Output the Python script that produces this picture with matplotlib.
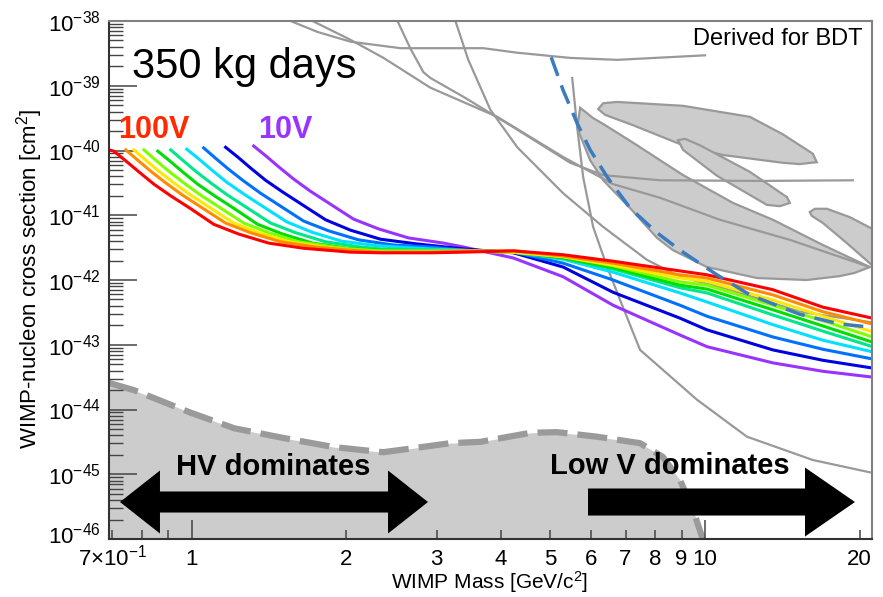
import numpy as np
import matplotlib
matplotlib.use("Agg")
import matplotlib.pyplot as plt
from matplotlib.patches import Polygon
from matplotlib.ticker import FixedLocator, FixedFormatter, NullFormatter
from matplotlib.transforms import ScaledTranslation

plt.rcParams['font.family'] = ['Liberation Sans', 'DejaVu Sans']
plt.rcParams['mathtext.fontset'] = 'custom'
plt.rcParams['mathtext.rm'] = 'Liberation Sans'
plt.rcParams['mathtext.it'] = 'Liberation Sans:italic'
plt.rcParams['mathtext.bf'] = 'Liberation Sans:bold'

# ---- rainbow limit curves (mass in GeV/c^2, log10 of cross section in cm^2)
tail_mass = [2.917, 3.382, 4.232, 5.292, 6.622, 8.941, 10.09, 13.56, 16.97, 21.2]

mass_100v = [0.69, 0.705, 0.744, 0.789, 0.844, 0.910, 0.996, 1.104, 1.234, 1.412, 1.652, 2.038, 2.332] + tail_mass
lsig_100v = [-39.99, -40.01, -40.16, -40.33, -40.52, -40.70, -40.90, -41.14, -41.29, -41.43, -41.51, -41.57, -41.58,
             -41.58, -41.57, -41.55, -41.61, -41.71, -41.86, -41.92, -42.15, -42.42, -42.59]
mass_90v = [0.744, 0.785, 0.832, 0.890, 0.960, 1.050, 1.164, 1.302, 1.490, 1.743, 2.038, 2.332] + tail_mass
lsig_90v = [-39.99, -40.15, -40.32, -40.50, -40.69, -40.89, -41.12, -41.27, -41.41, -41.49, -41.54, -41.57,
            -41.57, -41.55, -41.55, -41.63, -41.74, -41.92, -41.97, -42.23, -42.49, -42.68]
mass_80v = [0.771, 0.814, 0.863, 0.923, 0.996, 1.089, 1.207, 1.350, 1.544, 1.806, 2.038, 2.332] + tail_mass
lsig_80v = [-39.99, -40.15, -40.32, -40.50, -40.69, -40.89, -41.12, -41.27, -41.41, -41.49, -41.54, -41.57,
            -41.57, -41.55, -41.57, -41.64, -41.77, -41.97, -42.02, -42.31, -42.56, -42.80]
mass_70v = [0.807, 0.851, 0.902, 0.965, 1.041, 1.139, 1.262, 1.412, 1.615, 1.889, 2.038, 2.332] + tail_mass
lsig_70v = [-39.99, -40.15, -40.32, -40.50, -40.69, -40.89, -41.12, -41.27, -41.41, -41.49, -41.52, -41.55,
            -41.55, -41.55, -41.57, -41.64, -41.78, -42.03, -42.08, -42.39, -42.63, -42.88]
mass_60v = [0.859, 0.906, 0.960, 1.027, 1.108, 1.212, 1.344, 1.503, 1.719, 2.011, 2.332] + tail_mass
lsig_60v = [-40.01, -40.16, -40.33, -40.52, -40.70, -40.90, -41.14, -41.29, -41.43, -41.51, -41.54,
            -41.55, -41.55, -41.57, -41.66, -41.81, -42.08, -42.14, -42.46, -42.71, -42.96]
mass_50v = [0.910, 0.960, 1.018, 1.089, 1.175, 1.285, 1.424, 1.594, 1.823, 2.132, 2.332] + tail_mass
lsig_50v = [-39.99, -40.15, -40.32, -40.50, -40.69, -40.89, -41.12, -41.27, -41.41, -41.49, -41.52,
            -41.54, -41.55, -41.57, -41.66, -41.83, -42.12, -42.20, -42.54, -42.79, -43.03]
mass_40v = [0.978, 1.032, 1.094, 1.170, 1.262, 1.380, 1.530, 1.712, 1.958, 2.291] + tail_mass
lsig_40v = [-39.98, -40.13, -40.30, -40.49, -40.67, -40.87, -41.10, -41.26, -41.40, -41.47,
            -41.52, -41.54, -41.57, -41.68, -41.88, -42.20, -42.34, -42.69, -42.93, -43.11]
mass_30v = [1.055, 1.113, 1.180, 1.262, 1.362, 1.490, 1.652, 1.847, 2.113, 2.472] + tail_mass
lsig_30v = [-39.96, -40.12, -40.29, -40.47, -40.66, -40.86, -41.09, -41.24, -41.38, -41.46,
            -41.49, -41.54, -41.57, -41.74, -42.00, -42.39, -42.56, -42.88, -43.07, -43.22]
mass_20v = [1.164, 1.229, 1.302, 1.393, 1.503, 1.644, 1.823, 2.038, 2.332, 2.729] + tail_mass[1:]
lsig_20v = [-39.95, -40.10, -40.27, -40.46, -40.64, -40.84, -41.07, -41.23, -41.37, -41.44,
            -41.52, -41.58, -41.80, -42.19, -42.59, -42.77, -43.08, -43.24, -43.36]
mass_10v = [1.320, 1.393, 1.476, 1.579, 1.704, 1.864, 2.067, 2.311, 2.644, 3.093] + tail_mass[1:]
lsig_10v = [-39.93, -40.08, -40.25, -40.44, -40.63, -40.83, -41.06, -41.21, -41.35, -41.43,
            -41.49, -41.66, -41.95, -42.39, -42.85, -43.03, -43.28, -43.41, -43.50]

rainbow_colors = ['#ff0000', '#ff8c00', '#ffe800', '#7fff00', '#00dd00',
                  '#00e68a', '#00e0ff', '#0070ff', '#0000e0', '#9933ff']

# ---- other experiments (grey lines)
exp1_mass = [1.45, 1.76, 2.04, 2.55, 3.70, 4.31, 5.46, 6.74, 10.0]
exp1_lsig = [-37.9, -38.17, -38.32, -38.42, -38.42, -38.49, -38.57, -38.60, -38.53]
exp2_mass = [2.517, 2.665, 2.827, 2.917, 3.382, 4.232, 5.463, 6.333, 8.172, 12.79, 19.41]
exp2_lsig = [-38.00, -38.42, -38.79, -38.88, -39.17, -39.64, -40.19, -40.38, -40.46, -40.47, -40.46]
exp3_mass = [1.719, 2.038, 2.364, 2.917, 3.938, 5.292, 6.622, 8.172, 10.69, 14.63, 20.94]
exp3_lsig = [-38.00, -38.29, -38.57, -39.03, -39.48, -40.10, -40.52, -40.73, -41.07, -41.38, -41.80]
exp4_mass = [3.264, 3.458, 3.817, 4.308, 5.292, 6.333, 7.711, 8.941, 11.19, 15.30, 20.94]
exp4_lsig = [-38.00, -38.60, -39.37, -39.95, -40.66, -41.18, -41.69, -41.95, -42.15, -42.49, -42.65]
exp5_mass = [5.511, 5.636, 5.789, 6.054, 6.448, 6.833, 7.473, 8.941, 9.65, 12.07, 16.22, 20.94]
exp5_lsig = [-38.88, -39.64, -40.41, -41.18, -41.80, -42.31, -43.08, -43.62, -43.85, -44.42, -44.78, -44.97]

# ---- signal regions (grey filled contours)
reg1_mass = [5.712, 6.054, 6.333, 7.243, 9.063, 11.34, 13.56, 16.97, 20.94, 19.58, 18.31, 15.79, 12.63, 10.09, 8.663, 8.063, 7.146, 6.333, 5.973, 5.636]
reg1_lsig = [-39.34, -39.50, -39.59, -39.88, -40.38, -40.81, -41.07, -41.46, -41.80, -41.89, -41.94, -42.00, -41.97, -41.80, -41.54, -41.35, -40.89, -40.46, -40.15, -39.65]
reg2_mass = [6.192, 6.333, 6.743, 9.063, 12.23, 14.18, 16.22, 16.51, 15.30, 14.18, 10.84, 9.063, 7.243, 6.39]
reg2_lsig = [-39.36, -39.27, -39.25, -39.31, -39.48, -39.75, -40.05, -40.18, -40.21, -40.19, -40.07, -39.92, -39.61, -39.45]
reg3_mass = [8.86, 9.14, 9.779, 12.23, 14.44, 14.63, 13.99, 13.20, 10.55, 9.063]
reg3_lsig = [-39.84, -39.82, -39.92, -40.33, -40.72, -40.81, -40.86, -40.84, -40.39, -39.99]
reg4_mass = [16.0, 16.37, 17.28, 19.15, 21.42, 21.42, 18.89, 16.97, 16.15]
reg4_lsig = [-40.95, -40.90, -40.90, -41.03, -41.23, -41.81, -41.43, -41.12, -41.01]

# ---- blue dashed curve
blue_mass = [5.015, 5.292, 5.636, 5.973, 6.448, 7.146, 8.063, 8.941, 10.55, 12.23, 15.30, 18.31, 21.14]
blue_lsig = [-38.56, -39.07, -39.58, -39.99, -40.41, -40.89, -41.27, -41.54, -41.92, -42.23, -42.53, -42.68, -42.73]

# ---- neutrino floor
floor_mass = [0.69, 0.771, 0.996, 1.21, 1.51, 1.89, 2.36, 2.75, 3.19, 3.65, 4.57, 5.15, 6.16, 7.47, 8.27, 8.94, 9.48, 9.87, 10.05]
floor_lsig = [-43.59, -43.70, -44.05, -44.29, -44.44, -44.58, -44.66, -44.59, -44.52, -44.50, -44.36, -44.35, -44.42, -44.52, -44.73, -45.09, -45.55, -45.97, -46.3]

xminor_ticks = [0.7, 0.8, 0.9, 2, 3, 4, 5, 6, 7, 8, 9, 20]
xminor_labels = ['7×10$^{-1}$', '', '', '2', '3', '4', '5', '6', '7', '8', '9', '20']
ydecades = list(range(-46, -37))

fig = plt.figure(figsize=(8.83, 5.97), dpi=100)
ax = fig.add_axes([109 / 883, 58 / 597, 763 / 883, 518 / 597])
ax.set_xscale('log')
ax.set_yscale('log')
ax.set_xlim(0.69, 21.15)
ax.set_ylim(1e-46, 1e-38)

# neutrino floor
fm = np.array(floor_mass)
fs = np.power(10.0, floor_lsig)
ax.fill_between(fm, fs, 1e-47, color='#cccccc', lw=0, zorder=1)
ax.plot(fm, fs, color='#9a9a9a', lw=4.5, dashes=(4.8, 1.6), zorder=1.2)

# grey contours
for rm, rs in [(reg1_mass, reg1_lsig), (reg2_mass, reg2_lsig), (reg3_mass, reg3_lsig), (reg4_mass, reg4_lsig)]:
    pts = np.column_stack([rm, np.power(10.0, rs)])
    ax.add_patch(Polygon(pts, closed=True, facecolor='#cccccc', edgecolor='#999999', lw=1.6, zorder=1.3))

# grey lines
for gm, gs in [(exp1_mass, exp1_lsig), (exp2_mass, exp2_lsig), (exp3_mass, exp3_lsig),
               (exp4_mass, exp4_lsig), (exp5_mass, exp5_lsig)]:
    ax.plot(gm, np.power(10.0, gs), color='#999999', lw=1.6, zorder=1.5)

# rainbow curves, violet first so red ends on top
curves = [(mass_100v, lsig_100v), (mass_90v, lsig_90v), (mass_80v, lsig_80v), (mass_70v, lsig_70v),
          (mass_60v, lsig_60v), (mass_50v, lsig_50v), (mass_40v, lsig_40v), (mass_30v, lsig_30v),
          (mass_20v, lsig_20v), (mass_10v, lsig_10v)]
for i in range(len(curves) - 1, -1, -1):
    cm, cs = curves[i]
    ax.plot(cm, np.power(10.0, cs), color=rainbow_colors[i], lw=2.2, zorder=2 + 0.01 * (10 - i),
            solid_joinstyle='round')

# blue dashed
ax.plot(blue_mass, np.power(10.0, blue_lsig), color='#3b7bbf', lw=2.5, dashes=(5.7, 2.9), zorder=2.3)

# arrows (axes fraction)
def arrow_verts(x0, x1, yc, sh, hh, hl, double):
    v = []
    if double:
        v += [(x0, yc), (x0 + hl, yc + hh), (x0 + hl, yc + sh)]
    else:
        v += [(x0, yc + sh)]
    v += [(x1 - hl, yc + sh), (x1 - hl, yc + hh), (x1, yc), (x1 - hl, yc - hh), (x1 - hl, yc - sh)]
    if double:
        v += [(x0 + hl, yc - sh), (x0 + hl, yc - hh)]
    else:
        v += [(x0, yc - sh)]
    return v

ax.add_patch(Polygon(arrow_verts(0.0144, 0.4181, 0.0714, 0.0203, 0.0608, 0.0524, True),
                     closed=True, facecolor='black', edgecolor='none', transform=ax.transAxes, zorder=4))
ax.add_patch(Polygon(arrow_verts(0.6278, 0.9777, 0.0714, 0.0261, 0.0666, 0.0655, False),
                     closed=True, facecolor='black', edgecolor='none', transform=ax.transAxes, zorder=4))

# texts
ax.text(0.0301, 0.911, '350 kg days', transform=ax.transAxes, fontsize=30, ha='left', va='center')
ax.text(0.0118, 0.79, '100V', transform=ax.transAxes, fontsize=22, fontweight='bold',
        color='#ff2a00', ha='left', va='center')
ax.text(0.1953, 0.79, '10V', transform=ax.transAxes, fontsize=22, fontweight='bold',
        color='#9933ff', ha='left', va='center')
ax.text(0.987, 0.966, 'Derived for BDT', transform=ax.transAxes, fontsize=17, ha='right', va='center')
ax.text(0.215, 0.139, 'HV dominates', transform=ax.transAxes, fontsize=21, fontweight='bold',
        ha='center', va='center', zorder=5)
ax.text(0.735, 0.141, 'Low V dominates', transform=ax.transAxes, fontsize=21, fontweight='bold',
        ha='center', va='center', zorder=5)

# axes / ticks
ax.xaxis.set_major_locator(FixedLocator([1, 10]))
ax.xaxis.set_major_formatter(FixedFormatter(['1', '10']))
ax.xaxis.set_minor_locator(FixedLocator(xminor_ticks))
ax.xaxis.set_minor_formatter(FixedFormatter(xminor_labels))
ax.yaxis.set_major_locator(FixedLocator([10.0 ** d for d in ydecades]))
ax.yaxis.set_major_formatter(FixedFormatter(['$10^{%d}$' % d for d in ydecades]))
ax.yaxis.set_minor_locator(FixedLocator([k * 10.0 ** d for d in ydecades[:-1] for k in range(2, 10)]))
ax.yaxis.set_minor_formatter(NullFormatter())

ax.tick_params(axis='y', which='major', direction='in', length=20, width=1.1, pad=6,
               labelsize=16, color='#444444', right=False)
ax.tick_params(axis='y', which='minor', direction='in', length=10, width=1.0, color='#444444', right=False)
ax.tick_params(axis='x', which='major', direction='in', length=13.5, width=1.1, pad=19,
               labelsize=16, color='#444444', top=False)
ax.tick_params(axis='x', which='minor', direction='in', length=6.5, width=1.1, pad=19,
               labelsize=16, color='#444444', top=False)
for lab in ax.xaxis.get_ticklabels(which='both'):
    lab.set_verticalalignment('baseline')
# lift the bottom decade label a little so it clears the 7x10^-1 label
ylabs = ax.yaxis.get_ticklabels()
ylabs[0].set_transform(ylabs[0].get_transform() + ScaledTranslation(0, 4 / 72, fig.dpi_scale_trans))

for s in ['left', 'bottom']:
    ax.spines[s].set_color('#333333')
    ax.spines[s].set_linewidth(1.5)
for s in ['top', 'right']:
    ax.spines[s].set_color('#808080')
    ax.spines[s].set_linewidth(1.5)

fig.text(30 / 883, 1 - 279 / 597, 'WIMP-nucleon cross section [cm$^2$]', rotation=90,
         ha='center', va='center', fontsize=16)
fig.text(490 / 883, 1 - 582 / 597, 'WIMP Mass [GeV/c$^2$]', ha='center', va='center', fontsize=15)

fig.savefig('out.png', dpi=100)
